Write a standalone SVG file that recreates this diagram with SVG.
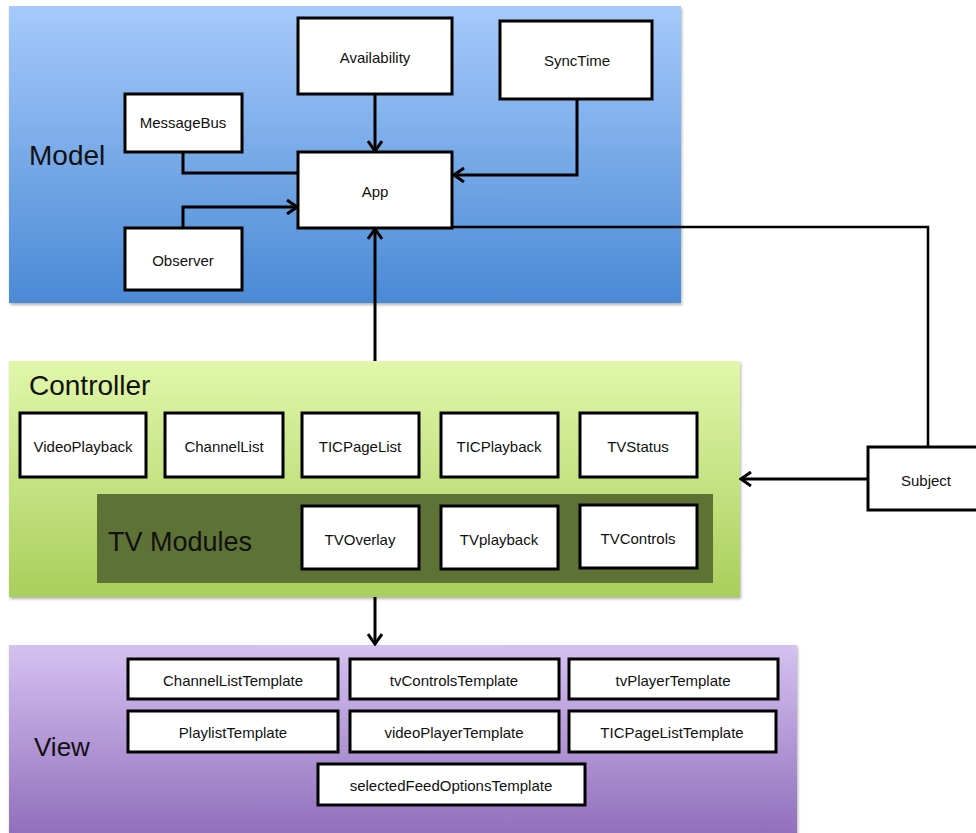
<svg xmlns="http://www.w3.org/2000/svg" width="976" height="833" viewBox="0 0 976 833">
<defs>
  <linearGradient id="gModel" x1="0" y1="0" x2="0" y2="1">
    <stop offset="0" stop-color="#a6cafb"/>
    <stop offset="1" stop-color="#4a8ad5"/>
  </linearGradient>
  <linearGradient id="gCtrl" x1="0" y1="0" x2="0" y2="1">
    <stop offset="0" stop-color="#e1f7ab"/>
    <stop offset="1" stop-color="#a9cf5c"/>
  </linearGradient>
  <linearGradient id="gView" x1="0" y1="0" x2="0" y2="1">
    <stop offset="0" stop-color="#d5c2f1"/>
    <stop offset="1" stop-color="#8e6ab9"/>
  </linearGradient>
  <filter id="shadow" x="-5%" y="-5%" width="110%" height="115%">
    <feDropShadow dx="1" dy="2" stdDeviation="1.5" flood-color="#000" flood-opacity="0.3"/>
  </filter>
  <marker id="arrow" markerUnits="userSpaceOnUse" markerWidth="14" markerHeight="16" viewBox="0 0 14 16" refX="12" refY="8" orient="auto">
    <path d="M2,1 L12,8 L2,15" fill="none" stroke="#000" stroke-width="3"/>
  </marker>
</defs>
<style>
  .box { fill: #fff; stroke: #000; stroke-width: 3; }
  .lbl { font-family: "Liberation Sans", Arial, sans-serif; font-size: 15px; fill: #111; text-anchor: middle; }
  .big { font-family: "Liberation Sans", Arial, sans-serif; font-size: 28px; fill: #111; }
  .conn { fill: none; stroke: #000; stroke-width: 3; }
</style>

<!-- Panels -->
<g id="model-panel">
  <rect x="9" y="6" width="672" height="297" fill="url(#gModel)" filter="url(#shadow)"/>
  <text class="big" x="29" y="165">Model</text>
</g>
<g id="controller-panel">
  <rect x="9" y="361" width="731" height="236" fill="url(#gCtrl)" filter="url(#shadow)"/>
  <text class="big" x="29" y="395">Controller</text>
</g>
<g id="view-panel">
  <rect x="9" y="645" width="788" height="200" fill="url(#gView)" filter="url(#shadow)"/>
  <text class="big" x="34" y="756" style="font-size:26px">View</text>
</g>

<!-- Connectors -->
<g id="connectors">
  <path class="conn" d="M375,94 L375,151" marker-end="url(#arrow)"/>
  <path class="conn" d="M577,99 L577,175 L454,175" marker-end="url(#arrow)"/>
  <path class="conn" d="M183,152 L183,173 L298,173"/>
  <path class="conn" d="M183,228 L183,207 L297,207" marker-end="url(#arrow)"/>
  <path class="conn" d="M375,361 L375,229" marker-end="url(#arrow)"/>
  <path class="conn" d="M375,597 L375,644" marker-end="url(#arrow)"/>
  <path class="conn" style="stroke-width:2.5" d="M452,227 L928,227 L928,447"/>
  <path class="conn" d="M868,479 L741,479" marker-end="url(#arrow)"/>
</g>

<!-- Model nodes -->
<g id="availability"><rect class="box" x="298" y="18" width="154" height="76"/><text class="lbl" x="375" y="63">Availability</text></g>
<g id="synctime"><rect class="box" x="500" y="21" width="152" height="78"/><text class="lbl" x="577" y="66">SyncTime</text></g>
<g id="messagebus"><rect class="box" x="125" y="94" width="117" height="58"/><text class="lbl" x="183" y="128">MessageBus</text></g>
<g id="app"><rect class="box" x="298" y="152" width="154" height="76"/><text class="lbl" x="375" y="197">App</text></g>
<g id="observer"><rect class="box" x="125" y="228" width="117" height="62"/><text class="lbl" x="183" y="266">Observer</text></g>

<!-- Subject -->
<g id="subject"><rect class="box" x="868" y="447" width="120" height="63"/><text class="lbl" x="926" y="486">Subject</text></g>

<!-- Controller nodes -->
<g id="videoplayback"><rect class="box" x="20" y="413" width="126" height="64"/><text class="lbl" x="83" y="452">VideoPlayback</text></g>
<g id="channellist"><rect class="box" x="165" y="413" width="118" height="64"/><text class="lbl" x="224" y="452">ChannelList</text></g>
<g id="ticpagelist"><rect class="box" x="302" y="413" width="117" height="64"/><text class="lbl" x="360" y="452">TICPageList</text></g>
<g id="ticplayback"><rect class="box" x="441" y="413" width="117" height="64"/><text class="lbl" x="499" y="452">TICPlayback</text></g>
<g id="tvstatus"><rect class="box" x="580" y="413" width="117" height="64"/><text class="lbl" x="638" y="452">TVStatus</text></g>

<!-- TV Modules -->
<g id="tv-modules">
  <rect x="97" y="494" width="616" height="89" fill="#5e7236"/>
  <text class="big" x="108" y="551" style="font-size:27px">TV Modules</text>
</g>
<g id="tvoverlay"><rect class="box" x="302" y="506" width="117" height="63"/><text class="lbl" x="360" y="545">TVOverlay</text></g>
<g id="tvplayback"><rect class="box" x="441" y="506" width="117" height="63"/><text class="lbl" x="499" y="545">TVplayback</text></g>
<g id="tvcontrols"><rect class="box" x="580" y="505" width="117" height="63"/><text class="lbl" x="638" y="544">TVControls</text></g>

<!-- View nodes -->
<g id="channellisttemplate"><rect class="box" x="128" y="659" width="210" height="40"/><text class="lbl" x="233" y="686">ChannelListTemplate</text></g>
<g id="tvcontrolstemplate"><rect class="box" x="350" y="659" width="209" height="40"/><text class="lbl" x="454" y="686">tvControlsTemplate</text></g>
<g id="tvplayertemplate"><rect class="box" x="569" y="659" width="209" height="40"/><text class="lbl" x="673" y="686">tvPlayerTemplate</text></g>
<g id="playlisttemplate"><rect class="box" x="128" y="711" width="210" height="41"/><text class="lbl" x="233" y="738">PlaylistTemplate</text></g>
<g id="videoplayertemplate"><rect class="box" x="350" y="711" width="209" height="41"/><text class="lbl" x="454" y="738">videoPlayerTemplate</text></g>
<g id="ticpagelisttemplate"><rect class="box" x="569" y="711" width="207" height="41"/><text class="lbl" x="672" y="738">TICPageListTemplate</text></g>
<g id="selectedfeedoptionstemplate"><rect class="box" x="318" y="764" width="267" height="41"/><text class="lbl" x="451" y="791">selectedFeedOptionsTemplate</text></g>
</svg>
